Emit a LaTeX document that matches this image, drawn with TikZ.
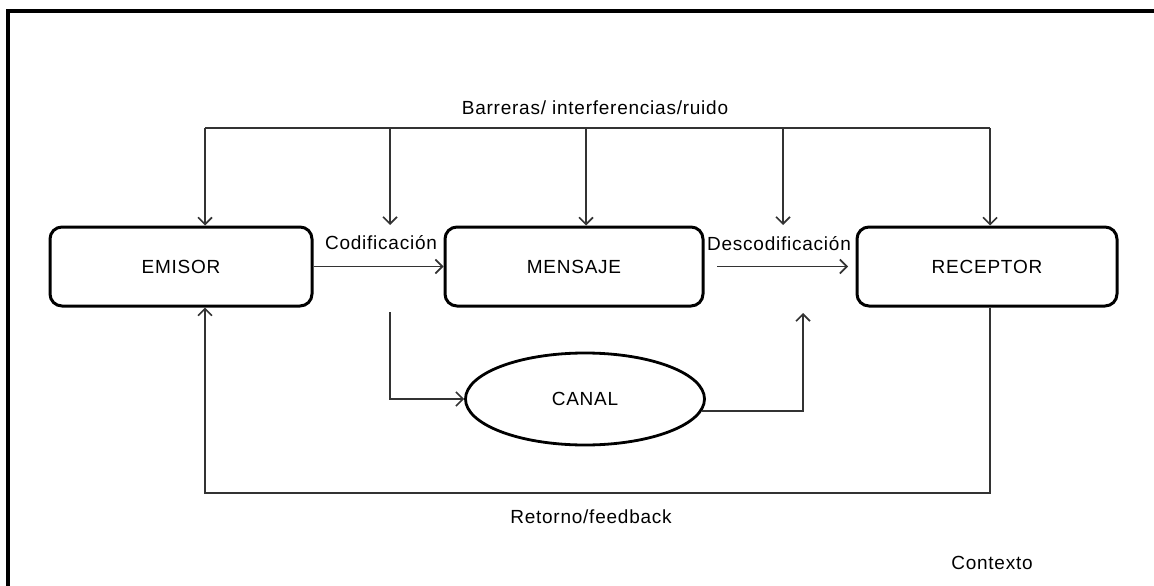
\documentclass[tikz,border=0pt]{standalone}
\usepackage{fontspec}
\setmainfont{Liberation Sans}[LetterSpace=4]
\usetikzlibrary{arrows.meta,shapes.geometric}
\begin{document}
\begin{tikzpicture}[x=1pt,y=-1pt,
  box/.style={draw=black,line width=3pt,rounded corners=12pt,minimum height=79pt,inner sep=0pt,font=\fontsize{19}{22}\selectfont},
  oval/.style={ellipse,draw=black,line width=2.8pt,minimum width=239pt,minimum height=92pt,inner sep=0pt,font=\fontsize{19}{22}\selectfont},
  conn/.style={draw=black!80,line width=1.8pt},
  arr/.style={conn,-{Straight Barb[length=7pt,width=14pt,line width=1.6pt]}},
  lbl/.style={inner sep=0pt,font=\fontsize{19}{22}\selectfont}]
\clip (0,0) rectangle (1154,586);
\draw[line width=3.2pt] (8,11) rectangle (1170,600);
% boxes
\node[box,minimum width=262pt] (emisor) at (181,266.5) {EMISOR};
\node[box,minimum width=258pt] (mensaje) at (574,266.5) {MENSAJE};
\node[box,minimum width=260pt] (receptor) at (987,266.5) {RECEPTOR};
\node[oval] (canal) at (585,399) {CANAL};
% barriers
\coordinate (bl) at (205,128);
\coordinate (br) at (990,128);
\coordinate (b2) at (390,128);
\coordinate (b3) at (586,128);
\coordinate (b4) at (783,128);
\coordinate (e2) at (390,225);
\coordinate (e4) at (783,225);
\node[lbl] (barr) at (595,108) {Barreras/ interferencias/ruido};
\draw[conn] (bl) -- (br);
\draw[arr] (bl) -- (bl |- emisor.north);
\draw[arr] (b2) -- (e2);
\draw[arr] (b3) -- (b3 |- mensaje.north);
\draw[arr] (b4) -- (e4);
\draw[arr] (br) -- (br |- receptor.north);
% coding
\node[lbl] (cod) at (381,243) {Codificación};
\node[lbl] (desc) at (779,244) {Descodificación};
\draw[arr] (emisor.east) -- (mensaje.west);
\coordinate (d1) at (717,266.5);
\coordinate (d2) at (848,266.5);
\draw[arr] (d1) -- (d2);
% channel
\coordinate (c1) at (390,312);
\coordinate (c2) at (803,313);
\draw[arr] (c1) |- (canal.west);
\draw[arr] (canal.-6) -| (c2);
% feedback
\coordinate (f1) at (990,493);
\draw[arr] (receptor.south -| br) -- (f1) -| (emisor.south -| bl);
\node[lbl] (ret) at (591,517) {Retorno/feedback};
\node[lbl] (ctx) at (992,563) {Contexto};
\end{tikzpicture}
\end{document}
